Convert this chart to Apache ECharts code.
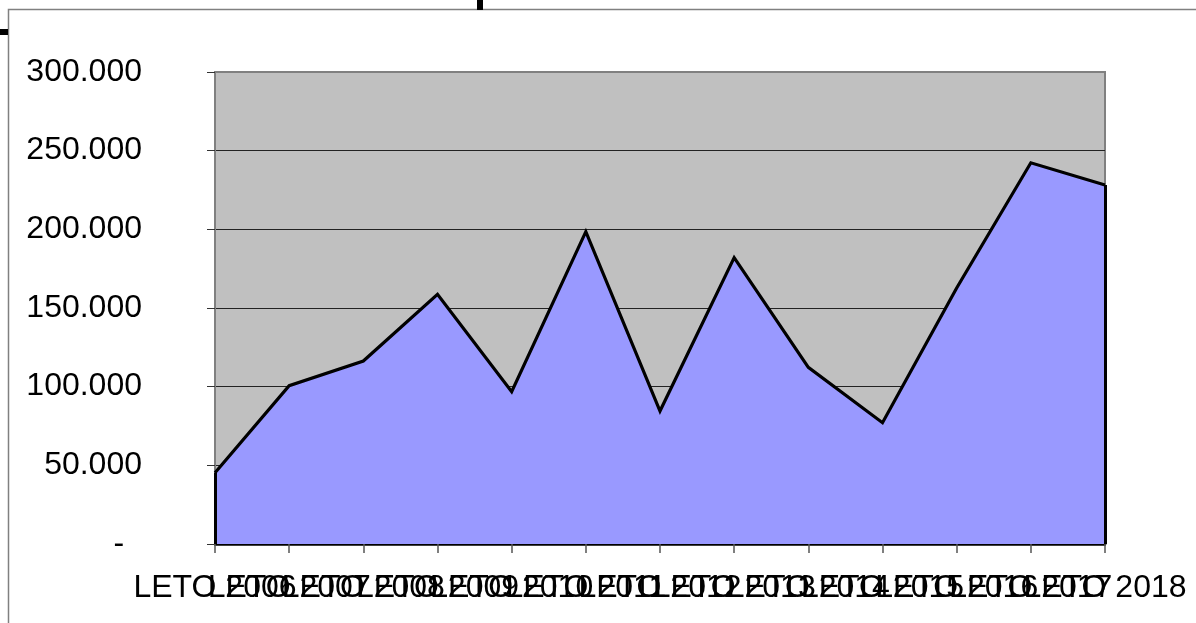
<!DOCTYPE html>
<html>
<head>
<meta charset="utf-8">
<script src="https://cdn.jsdelivr.net/npm/echarts@6/dist/echarts.min.js"></script>
<style>
html, body { margin: 0; padding: 0; background: #fff; }
#chart { width: 1196px; height: 623px; }
</style>
</head>
<body>
<div id="chart"></div>
<script>
var years = ['LETO 2006', 'LETO 2007', 'LETO 2008', 'LETO 2009', 'LETO 2010', 'LETO 2011', 'LETO 2012',
             'LETO 2013', 'LETO 2014', 'LETO 2015', 'LETO 2016', 'LETO 2017', 'LETO 2018'];
var values = [45300, 100600, 116300, 158700, 96800, 198500, 84500, 182000, 112300, 77100, 162700, 242300, 228200];
var yTicks = [0, 50000, 100000, 150000, 200000, 250000, 300000];

var chart = echarts.init(document.getElementById('chart'));
var font = 'Liberation Sans, Arial, sans-serif';

// accounting style: dot as thousands separator, dash for zero
function fmt(v) {
    if (v === 0) return '-  ';
    return String(v).replace(/\B(?=(\d{3})+(?!\d))/g, '.');
}

var last = years.length - 1;

var option = {
    animation: false,
    backgroundColor: '#fff',
    graphic: [
        { type: 'rect', shape: { x: 8.5, y: 9.5, width: 1400, height: 800 },
          style: { fill: 'none', stroke: '#808080', lineWidth: 1.5 } },
        { type: 'rect', shape: { x: 0, y: 29, width: 8, height: 6 }, style: { fill: '#000' } },
        { type: 'rect', shape: { x: 477, y: 0, width: 6, height: 10 }, style: { fill: '#000' } }
    ],
    grid: {
        left: 215, top: 72, right: 91, bottom: 79,
        show: true,
        backgroundColor: '#C0C0C0',
        borderColor: '#808080',
        borderWidth: 2
    },
    xAxis: {
        type: 'category',
        boundaryGap: false,
        data: years,
        axisLine: { lineStyle: { color: '#000', width: 2.5 } },
        axisTick: { show: true, length: 9, lineStyle: { color: '#555', width: 1.5 } },
        axisLabel: { interval: 0, hideOverlap: false, margin: 28, color: '#000', fontSize: 32, fontFamily: font },
        splitLine: { show: false }
    },
    yAxis: {
        type: 'value',
        min: yTicks[0],
        max: yTicks[yTicks.length - 1],
        interval: 50000,
        axisLine: { show: true, lineStyle: { color: '#808080', width: 2 } },
        axisTick: { show: true, length: 8, lineStyle: { color: '#333', width: 1 } },
        axisLabel: { margin: 73, color: '#000', fontSize: 32, fontFamily: font, formatter: fmt },
        splitLine: { show: true, showMaxLine: false, showMinLine: false, lineStyle: { color: '#222', width: 1 } }
    },
    series: [{
        type: 'line',
        data: values,
        symbol: 'none',
        lineStyle: { color: '#000', width: 3.2, join: 'miter' },
        areaStyle: { color: '#9999FF', opacity: 1 },
        markLine: {
            silent: true,
            symbol: 'none',
            label: { show: false },
            lineStyle: { color: '#000', width: 3, type: 'solid' },
            data: [
                [{ coord: [years[0], 0] }, { coord: [years[0], values[0]] }],
                [{ coord: [years[last], 0] }, { coord: [years[last], values[last]] }]
            ]
        }
    }]
};

chart.setOption(option);
</script>
</body>
</html>
